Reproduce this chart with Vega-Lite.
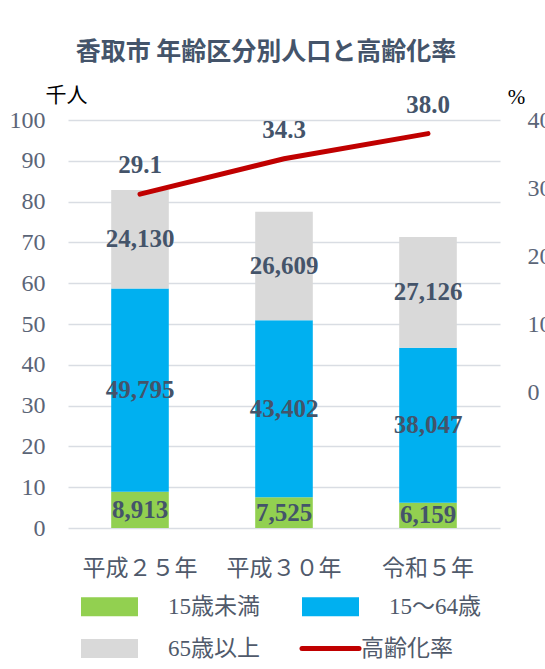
{
  "$schema": "https://vega.github.io/schema/vega-lite/v6.json",
  "width": 432,
  "height": 408,
  "autosize": {"type": "none"},
  "padding": {"left": 68, "top": 120, "right": 45, "bottom": 141},
  "background": "white",
  "config": {"view": {"stroke": null}},
  "title": {
    "text": "香取市 年齢区分別人口と高齢化率",
    "font": "Noto Sans CJK JP",
    "fontSize": 25,
    "fontWeight": "bold",
    "color": "#44546A",
    "anchor": "middle",
    "dx": -18,
    "offset": 19
  },
  "datasets": {
    "pop": [
      {"year": "平成２５年", "group": "15歳未満", "pop": 8913},
      {"year": "平成２５年", "group": "15～64歳", "pop": 49795},
      {"year": "平成２５年", "group": "65歳以上", "pop": 24130},
      {"year": "平成３０年", "group": "15歳未満", "pop": 7525},
      {"year": "平成３０年", "group": "15～64歳", "pop": 43402},
      {"year": "平成３０年", "group": "65歳以上", "pop": 26609},
      {"year": "令和５年", "group": "15歳未満", "pop": 6159},
      {"year": "令和５年", "group": "15～64歳", "pop": 38047},
      {"year": "令和５年", "group": "65歳以上", "pop": 27126}
    ],
    "rate": [
      {"year": "平成２５年", "rate": 29.1},
      {"year": "平成３０年", "rate": 34.3},
      {"year": "令和５年", "rate": 38.0}
    ]
  },
  "layer": [
    {
      "data": {"name": "pop"},
      "encoding": {
        "x": {
          "field": "year",
          "type": "nominal",
          "sort": ["平成２５年", "平成３０年", "令和５年"],
          "scale": {"paddingInner": 0.6, "paddingOuter": 0.3},
          "axis": {
            "title": null,
            "labelAngle": 0,
            "labelFont": "Liberation Serif, Noto Sans CJK JP",
            "labelFontSize": 23,
            "labelColor": "#505A6B",
            "labelPadding": 29,
            "ticks": false,
            "tickSize": 0,
            "domain": false
          }
        }
      },
      "layer": [
        {
          "mark": {"type": "bar"},
          "encoding": {
            "y": {
              "field": "pop",
              "type": "quantitative",
              "stack": "zero",
              "scale": {"domain": [0, 100000]},
              "axis": {
                "title": "千人",
                "titleAngle": 0,
                "titleX": -2,
                "titleY": -25,
                "titleAlign": "center",
                "titleBaseline": "middle",
                "titleFont": "Liberation Serif, Noto Sans CJK JP",
                "titleFontSize": 21,
                "titleFontWeight": "normal",
                "titleColor": "#000000",
                "values": [0, 10000, 20000, 30000, 40000, 50000, 60000, 70000, 80000, 90000, 100000],
                "labelExpr": "datum.value / 1000",
                "labelFont": "Liberation Serif",
                "labelFontSize": 24,
                "labelColor": "#5B6577",
                "labelPadding": 23,
                "ticks": false,
                "tickSize": 0,
                "domain": false,
                "grid": true,
                "gridColor": "#D9DDE3",
                "gridWidth": 1.5
              }
            },
            "order": {"field": "group", "sort": "ascending"},
            "color": {
              "field": "group",
              "type": "nominal",
              "scale": {
                "domain": ["15歳未満", "15～64歳", "65歳以上", "高齢化率"],
                "range": ["#92D050", "#00B0F0", "#D9D9D9", "#C00000"]
              },
              "legend": {
                "orient": "none",
                "legendX": 29,
                "legendY": 474,
                "columns": 2,
                "direction": "horizontal",
                "title": null,
                "padding": 0,
                "symbolSize": 400,
                "labelOffset": 46,
                "columnPadding": 32,
                "rowPadding": 7,
                "labelFont": "Liberation Serif, Noto Sans CJK JP",
                "labelFontSize": 23,
                "labelColor": "#505A6B",
                "labelLimit": 200,
                "encode": {
                  "symbols": {
                    "update": {
                      "shape": {"signal": "datum.value === '高齢化率' ? 'M-2.85,0H2.85' : 'M-2.6,-0.7H2.6V0.7H-2.6Z'"},
                      "fill": {"signal": "datum.value === '15歳未満' ? '#92D050' : datum.value === '15～64歳' ? '#00B0F0' : datum.value === '65歳以上' ? '#D9D9D9' : 'transparent'"},
                      "stroke": {"signal": "datum.value === '高齢化率' ? '#C00000' : 'transparent'"},
                      "strokeWidth": {"value": 5},
                      "strokeCap": {"value": "round"},
                      "opacity": {"value": 1},
                      "fillOpacity": {"value": 1},
                      "strokeOpacity": {"value": 1}
                    }
                  },
                  "labels": {
                    "update": {
                      "dx": {"signal": "datum.value === '高齢化率' ? -28 : 0"}
                    }
                  }
                }
              }
            }
          }
        },
        {
          "transform": [
            {"stack": "pop", "groupby": ["year"], "sort": [{"field": "group", "order": "ascending"}], "as": ["y0", "y1"]},
            {"fold": ["y0", "y1"], "as": ["k", "v"]},
            {"aggregate": [{"op": "mean", "field": "v", "as": "mid"}], "groupby": ["year", "group", "pop"]}
          ],
          "mark": {
            "type": "text",
            "font": "Liberation Serif",
            "fontSize": 25,
            "fontWeight": "bold",
            "color": "#44546A",
            "baseline": "middle",
            "align": "center"
          },
          "encoding": {
            "y": {"field": "mid", "type": "quantitative"},
            "text": {"field": "pop", "type": "quantitative", "format": ","}
          }
        }
      ]
    },
    {
      "data": {"name": "rate"},
      "encoding": {
        "x": {"field": "year", "type": "nominal", "sort": ["平成２５年", "平成３０年", "令和５年"]},
        "y": {
          "field": "rate",
          "type": "quantitative",
          "scale": {"domain": [-20, 40]},
          "axis": {
            "orient": "right",
            "title": "%",
            "titleAngle": 0,
            "titleX": 16,
            "titleY": -23,
            "titleAlign": "center",
            "titleBaseline": "middle",
            "titleFont": "Liberation Serif",
            "titleFontSize": 21,
            "titleFontWeight": "normal",
            "titleColor": "#000000",
            "values": [0, 10, 20, 30, 40],
            "format": "d",
            "labelFont": "Liberation Serif",
            "labelFontSize": 24,
            "labelColor": "#5B6577",
            "labelPadding": 27,
            "ticks": false,
            "tickSize": 0,
            "domain": false,
            "grid": false
          }
        }
      },
      "layer": [
        {
          "mark": {"type": "line", "strokeWidth": 5, "strokeCap": "round"},
          "encoding": {"color": {"datum": "高齢化率"}}
        },
        {
          "mark": {
            "type": "text",
            "font": "Liberation Serif",
            "fontSize": 25,
            "fontWeight": "bold",
            "color": "#44546A",
            "baseline": "middle",
            "align": "center",
            "dy": -29
          },
          "encoding": {"text": {"field": "rate", "type": "quantitative", "format": ".1f"}}
        }
      ]
    }
  ],
  "resolve": {"scale": {"y": "independent"}}
}
